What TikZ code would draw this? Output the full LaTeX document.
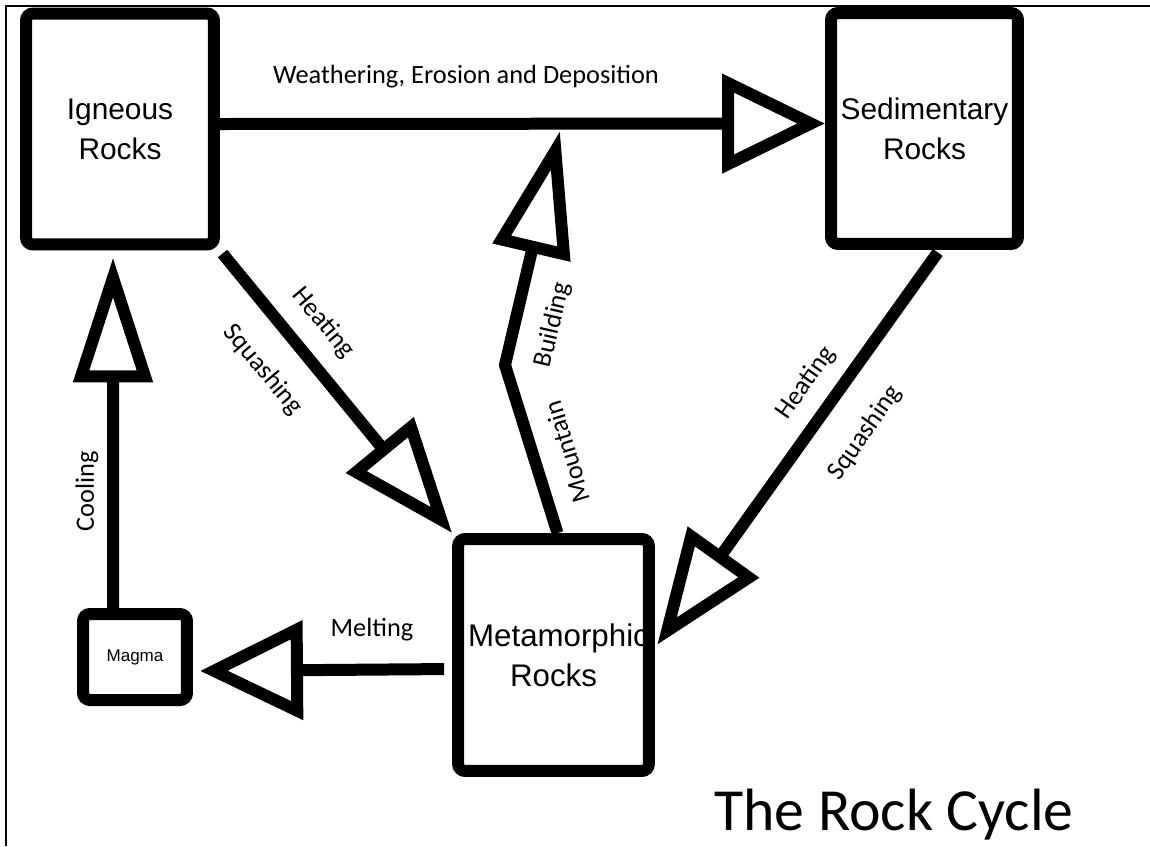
\documentclass[tikz,border=0pt]{standalone}
\usepackage{fontspec}
\usetikzlibrary{arrows.meta}
\newfontfamily\boxfont{Liberation Sans}
\newfontfamily\cyclefont{Carlito}
\tikzset{
  rockbox/.style = {draw=black, line width=0.24cm, rounded corners=0.14cm,
    fill=white, inner sep=0pt, align=center,
    font=\boxfont\fontsize{17pt}{22.8pt}\selectfont},% big rock boxes
  smallbox/.style = {rockbox, font=\boxfont\fontsize{9.7pt}{12pt}\selectfont},
  flow/.style = {draw=black, line width=0.24cm},
  widetip/.style = {flow, -{Triangle[open, length=2.06cm, width=1.94cm]}},
  slanttip/.style = {flow, -{Triangle[open, length=2.28cm, width=1.7cm]}},
  longtip/.style = {flow, -{Triangle[open, length=2.5cm, width=1.54cm]}},
  steplabel/.style = {inner sep=0pt, font=\cyclefont\fontsize{15pt}{17pt}\selectfont}
}

\begin{document}
\begin{tikzpicture}[x=0.02cm, y=-0.02cm]
  \useasboundingbox (0,0) rectangle (1150,846);
  \draw[line width=1.4pt] (6,846) -- (6,6) -- (1150,6);

  % rocks
  \node[rockbox, minimum width=3.76cm, minimum height=4.62cm] (ign) at (120,129) {Igneous\\Rocks};
  \node[rockbox, minimum width=3.74cm, minimum height=4.62cm] (sed) at (924.5,128.5) {Sedimentary\\Rocks};
  \node[rockbox, minimum width=3.7cm, minimum height=4.64cm,
    font=\boxfont\fontsize{17.8pt}{22.8pt}\selectfont] (meta) at (553.5,655) {\hspace*{0.2cm}Metamorphic\\Rocks};
  \node[smallbox, minimum width=2.08cm, minimum height=1.72cm] (magma) at (135,657) {Magma};

  \coordinate (kink) at (505,365);
  \coordinate (peak) at (560,131);

  % processes
  \draw[widetip] ([yshift=0.1cm]ign.east) -- ([yshift=0.1cm]sed.west);
  \draw[slanttip, shorten <=0.08cm] (ign.south east) -- (meta.north west);
  \draw[slanttip, shorten <=0.06cm, shorten >=0.08cm] ([xshift=0.3cm]sed.south) -- ([yshift=0.14cm]meta.east);
  \draw[longtip] ([xshift=0.08cm]meta.north) -- (kink) -- (peak);
  \draw[widetip, shorten <=0.16cm, shorten >=0.14cm] ([yshift=-0.28cm]meta.west) -- ([yshift=-0.28cm]magma.east);
  \draw[longtip, shorten >=0.14cm] ([xshift=-0.44cm]magma.north) -- ([xshift=-0.14cm]ign.south);

  \node[steplabel] (weathering) at (466,77) {Weathering, Erosion and Deposition};
  \node[steplabel, rotate=-50] (heatleft) at (323,323) {Heating};
  \node[steplabel, rotate=-50] (squashleft) at (263,370) {Squashing};
  \node[steplabel, rotate=77] (building) at (553,325) {Building};
  \node[steplabel, rotate=107] (mountain) at (567,452) {Mountain};
  \node[steplabel, rotate=55] (heatright) at (806,383) {Heating};
  \node[steplabel, rotate=55] (squashright) at (865,433) {Squashing};
  \node[steplabel, rotate=90] (cooling) at (87,491) {Cooling};
  \node[steplabel] (melting) at (372,630) {Melting};

  \node[inner sep=0pt, font=\cyclefont\fontsize{34pt}{36pt}\selectfont] (title) at (894,815) {The Rock Cycle};
\end{tikzpicture}
\end{document}
